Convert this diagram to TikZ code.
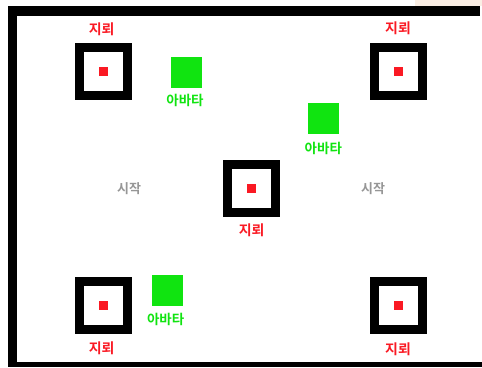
\documentclass[tikz,border=0pt]{standalone}
\usepackage{fontspec}
\newfontfamily\kr{Noto Sans CJK KR}[BoldFont={Noto Sans CJK KR Bold}]
\definecolor{minered}{RGB}{250,25,35}
\definecolor{avgreen}{RGB}{16,228,16}
\definecolor{startgray}{RGB}{150,150,150}
\definecolor{peach}{RGB}{250,238,228}
\begin{document}
\begin{tikzpicture}[x=1pt,y=-1pt,
  minebox/.style={draw=black,line width=9pt,fill=white,minimum size=48pt,inner sep=0pt},
  minedot/.style={fill=minered,minimum size=9pt,inner sep=0pt},
  avatarbox/.style={fill=avgreen,minimum size=31pt,inner sep=0pt},
  minelabel/.style={text=minered,font=\kr\bfseries\fontsize{14}{14}\selectfont,inner sep=0pt},
  avlabel/.style={text=avgreen,font=\kr\bfseries\fontsize{13.5}{13.5}\selectfont,inner sep=0pt},
  startlabel/.style={text=startgray,font=\kr\bfseries\fontsize{13}{13}\selectfont,inner sep=0pt},
  wall/.style={fill=black}]
\useasboundingbox (0,0) rectangle (482,367);
\fill[white] (0,0) rectangle (482,367);
\fill[peach] (415,0) rectangle (482,6);
% walls
\fill[wall] (8,6) rectangle (480,16);
\fill[wall] (8,6) rectangle (17,367);
\fill[wall] (8,361.7) rectangle (482,367);
% mines
\node[minebox] (m1) at (103.8,71.5) {};
\node[minedot] (d1) at (m1.center) {};
\node[minelabel] (l1) at (101.7,29) {지뢰};
\node[minebox] (m2) at (398.8,71.7) {};
\node[minedot] (d2) at (m2.center) {};
\node[minelabel] (l2) at (398,28) {지뢰};
\node[minebox] (m3) at (251.2,188.8) {};
\node[minedot] (d3) at (m3.center) {};
\node[minelabel] (l3) at (251.7,230.7) {지뢰};
\node[minebox] (m4) at (103.8,305.8) {};
\node[minedot] (d4) at (m4.center) {};
\node[minelabel] (l4) at (101.7,348.3) {지뢰};
\node[minebox] (m5) at (398.8,305.5) {};
\node[minedot] (d5) at (m5.center) {};
\node[minelabel] (l5) at (398,349) {지뢰};
% avatars
\node[avatarbox] (a1) at (186.3,72.2) {};
\node[avlabel] (al1) at (185,100) {아바타};
\node[avatarbox] (a2) at (323.8,118.8) {};
\node[avlabel] (al2) at (323.3,148.3) {아바타};
\node[avatarbox] (a3) at (167,290.3) {};
\node[avlabel] (al3) at (165.7,319.3) {아바타};
% start
\node[startlabel] (s1) at (129,189) {시작};
\node[startlabel] (s2) at (373,189) {시작};
\end{tikzpicture}
\end{document}
